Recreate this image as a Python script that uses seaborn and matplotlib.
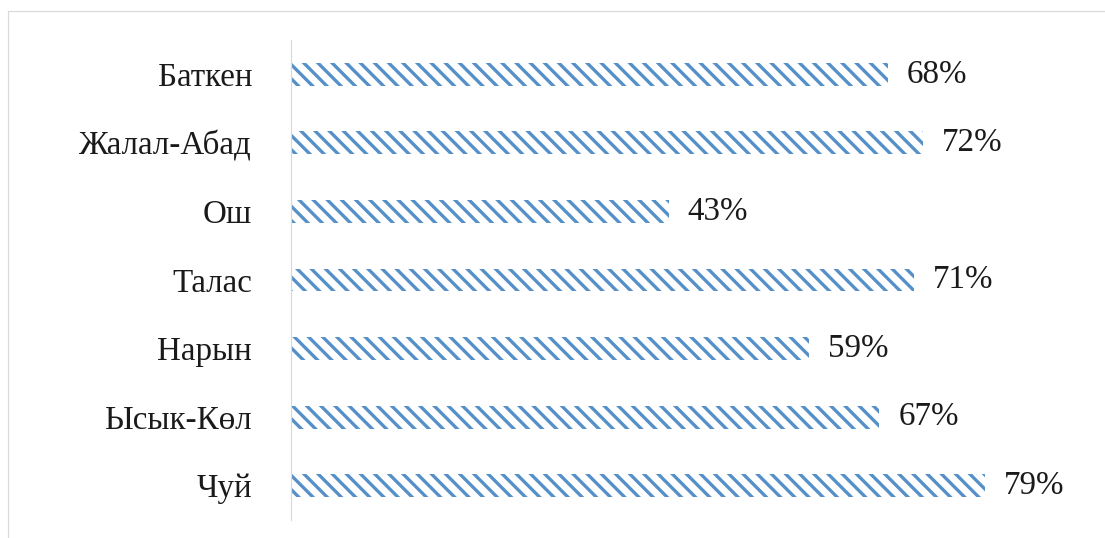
import matplotlib
matplotlib.use("Agg")
import matplotlib.pyplot as plt
import seaborn as sns
import pandas as pd
from matplotlib.lines import Line2D

regions = ["Баткен", "Жалал-Абад", "Ош", "Талас", "Нарын", "Ысык-Көл", "Чуй"]
values = [68, 72, 43, 71, 59, 67, 79]
value_labels = ["68%", "72%", "43%", "71%", "59%", "67%", "79%"]

DPI = 85
W, H = 1105, 538

sns.set_theme(style="white")
plt.rcParams['font.family'] = ['Liberation Serif', 'DejaVu Serif']
plt.rcParams['hatch.linewidth'] = 2.8

df = pd.DataFrame({"region": regions, "value": values})

fig = plt.figure(figsize=(W / DPI, H / DPI), dpi=DPI)
ax = fig.add_axes([291/W, 18/H, 799/W, 480/H])

sns.barplot(data=df, y="region", x="value", orient="h", color="white",
            width=0.335, ax=ax)

blue = "#5590c8"
for p in ax.patches:
    p.set_hatch("\\\\")
    p.set_edgecolor(blue)
    p.set_facecolor("white")
    p.set_linewidth(0)

ax.bar_label(ax.containers[0], labels=value_labels, padding=16,
             fontsize=28, color="#1a1a1a")

ax.set_xlim(0, 91)
ax.set_ylim(6.5, -0.5)
ax.set_xlabel("")
ax.set_ylabel("")
ax.set_xticks([])
ax.tick_params(axis="y", length=0, pad=33, labelsize=28, labelcolor="#1a1a1a")
for s in ["top", "right", "bottom"]:
    ax.spines[s].set_visible(False)
ax.spines["left"].set_color("#d9d9d9")
ax.spines["left"].set_linewidth(1.0)

# outer frame lines
fig.add_artist(Line2D([8/W, 1.0], [1 - 11/H, 1 - 11/H],
                      transform=fig.transFigure, color="#d9d9d9", lw=1))
fig.add_artist(Line2D([8/W, 8/W], [0, 1 - 11/H],
                      transform=fig.transFigure, color="#d9d9d9", lw=1))

fig.savefig("out.png", dpi=DPI)
